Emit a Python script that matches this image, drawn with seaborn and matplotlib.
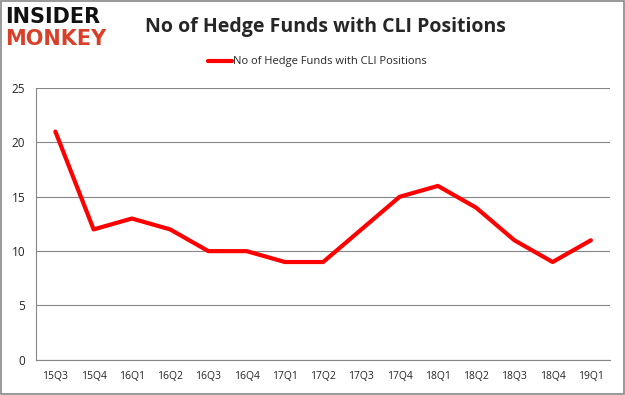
import matplotlib
matplotlib.use("Agg")
import matplotlib.pyplot as plt
import seaborn as sns
import pandas as pd
from matplotlib.patches import Rectangle

quarters = ["15Q3", "15Q4", "16Q1", "16Q2", "16Q3", "16Q4", "17Q1", "17Q2",
            "17Q3", "17Q4", "18Q1", "18Q2", "18Q3", "18Q4", "19Q1"]
funds = [21, 12, 13, 12, 10, 10, 9, 9, 12, 15, 16, 14, 11, 9, 11]
series_name = "No of Hedge Funds with CLI Positions"

df = pd.DataFrame({"quarter": quarters, "funds": funds})

sns.set_style("white")
plt.rcParams["font.family"] = ["Open Sans", "DejaVu Sans"]

fig = plt.figure(figsize=(6.25, 3.95), dpi=100)
ax = fig.add_axes([0.058, 0.089, 0.918, 0.688])

sns.lineplot(data=df, x="quarter", y="funds", color="#ff0000", linewidth=3,
             label=series_name, ax=ax, sort=False)

ax.set_xlim(-0.5, len(quarters) - 0.5)
ax.set_ylim(0, 25)
ax.set_yticks(range(0, 26, 5))
ax.set_xticks(range(len(quarters)))
ax.set_xticklabels(quarters)
ax.set_xticks([i - 0.5 for i in range(len(quarters) + 1)], minor=True)
ax.tick_params(axis="x", which="major", length=0, labelsize=7.5, pad=8)
ax.tick_params(axis="x", which="minor", length=4, color="#868686", width=0.8)
ax.tick_params(axis="y", length=4, color="#868686", width=0.8, labelsize=8.5, pad=4)
ax.yaxis.grid(True, color="#868686", linewidth=0.8)
ax.set_xlabel("")
ax.set_ylabel("")
for side in ["top", "right"]:
    ax.spines[side].set_visible(False)
for side in ["left", "bottom"]:
    ax.spines[side].set_color("#868686")
    ax.spines[side].set_linewidth(0.8)

leg = ax.legend(loc="center", bbox_to_anchor=(0.49, 1.096), frameon=False,
                fontsize=8, handlelength=2.2, handletextpad=0.1)

fig.text(0.52, 0.932, series_name, ha="center", va="center",
         fontsize=14, fontweight="bold")

# logo
fig.text(0.008, 0.958, "INSIDER", ha="left", va="center", fontsize=15,
         fontweight="heavy", color="#111111", family="DejaVu Sans")
fig.text(0.008, 0.902, "MONKEY", ha="left", va="center", fontsize=15,
         fontweight="heavy", color="#d9402a", family="DejaVu Sans")

fig.patches.append(Rectangle((0.0015, 0.0025), 0.997, 0.995, transform=fig.transFigure,
                             fill=False, edgecolor="#888888", linewidth=1.2))

plt.savefig("out.png", dpi=100)
